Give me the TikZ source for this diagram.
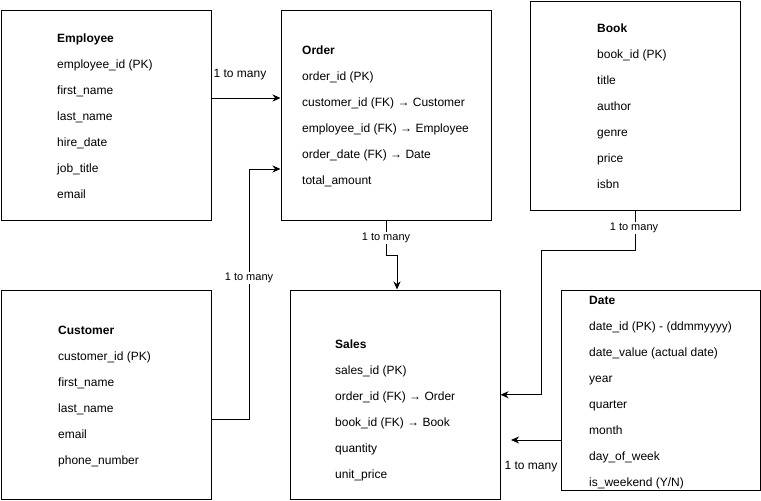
\documentclass[tikz,border=0pt]{standalone}
\usepackage{fontspec}
\setmainfont{Liberation Sans}
\usetikzlibrary{arrows.meta}

\tikzset{
	entity/.style={draw, line width=1pt, inner sep=0pt},
	head/.style={anchor=base west, inner sep=0pt, font=\fontsize{12}{14}\selectfont\bfseries},
	field/.style={anchor=base west, inner sep=0pt, font=\fontsize{12}{14}\selectfont},
	rel/.style={draw, line width=1pt, -{Stealth[length=8pt,width=7pt,inset=2.5pt]}},
	onlab/.style={fill=white, inner sep=1pt, font=\fontsize{11}{13}\selectfont},
	tag/.style={inner sep=0pt, font=\fontsize{12}{14}\selectfont}
}

\begin{document}
\begin{tikzpicture}[x=1pt, y=-1pt]
		\useasboundingbox (0,0) rectangle (761,501);
		
		% tables
		\node[entity, minimum width=210pt, minimum height=210pt] (employee) at (106,115) {};
		\node[entity, minimum width=210pt, minimum height=210pt] (order) at (386,115) {};
		\node[entity, minimum width=210pt, minimum height=209pt] (book) at (635,105.5) {};
		\node[entity, minimum width=210pt, minimum height=209.5pt] (customer) at (106,394.75) {};
		\node[entity, minimum width=210pt, minimum height=209.5pt] (sales) at (395,394.75) {};
		\node[entity, minimum width=199pt, minimum height=200pt] (date) at (660.5,390) {};
		
		% columns
		\node[head] (employee-title) at (57,42) {Employee};
		\foreach \f [count=\i] in {employee\_id (PK), first\_name, last\_name, hire\_date, job\_title, email}
			\node[field] (employee-\i) at (57,42+26*\i) {\f};
		
		\node[head] (order-title) at (302,54) {Order};
		\foreach \f [count=\i] in {order\_id (PK), customer\_id (FK) → Customer, employee\_id (FK) → Employee, order\_date (FK) → Date, total\_amount}
			\node[field] (order-\i) at (302,54+26*\i) {\f};
		
		\node[head] (book-title) at (597,32) {Book};
		\foreach \f [count=\i] in {book\_id (PK), title, author, genre, price, isbn}
			\node[field] (book-\i) at (597,32+26*\i) {\f};
		
		\node[head] (customer-title) at (58,334) {Customer};
		\foreach \f [count=\i] in {customer\_id (PK), first\_name, last\_name, email, phone\_number}
			\node[field] (customer-\i) at (58,334+26*\i) {\f};
		
		\node[head] (sales-title) at (335,348) {Sales};
		\foreach \f [count=\i] in {sales\_id (PK), order\_id (FK) → Order, book\_id (FK) → Book, quantity, unit\_price}
			\node[field] (sales-\i) at (335,348+26*\i) {\f};
		
		\node[head] (date-title) at (589,304) {Date};
		\foreach \f [count=\i] in {date\_id (PK) - (ddmmyyyy), date\_value (actual date), year, quarter, month, day\_of\_week, is\_weekend (Y/N)}
			\node[field] (date-\i) at (589,304+26*\i) {\f};
		
		% relations
		\draw[rel] ([yshift=17pt]employee.east) -- ([yshift=17pt]order.west);
		\node[tag] (employee-order) at (240,75) {1 to many};
		
		\draw[rel] ([yshift=-25pt]customer.east) -- ++(38pt,0) |- ([yshift=-54pt]order.west);
		\node[onlab] (customer-order) at (249,278) {1 to many};
		
		\draw[rel] (order.south) -- ++(0,-35pt) -| ([xshift=2pt]sales.north);
		\node[onlab] (order-sales) at (386,238) {1 to many};
		
		\draw[rel] (book.south) -- ++(0,-40pt) -| ([xshift=41pt]sales.east) -- (sales.east);
		\node[onlab] (book-sales) at (634,228) {1 to many};
		
		\coordinate (date-end) at (511,440);
		\draw[rel] ([yshift=-50pt]date.west) -- (date-end);
		\node[tag] (date-sales) at (531,467) {1 to many};
	\end{tikzpicture}
\end{document}
